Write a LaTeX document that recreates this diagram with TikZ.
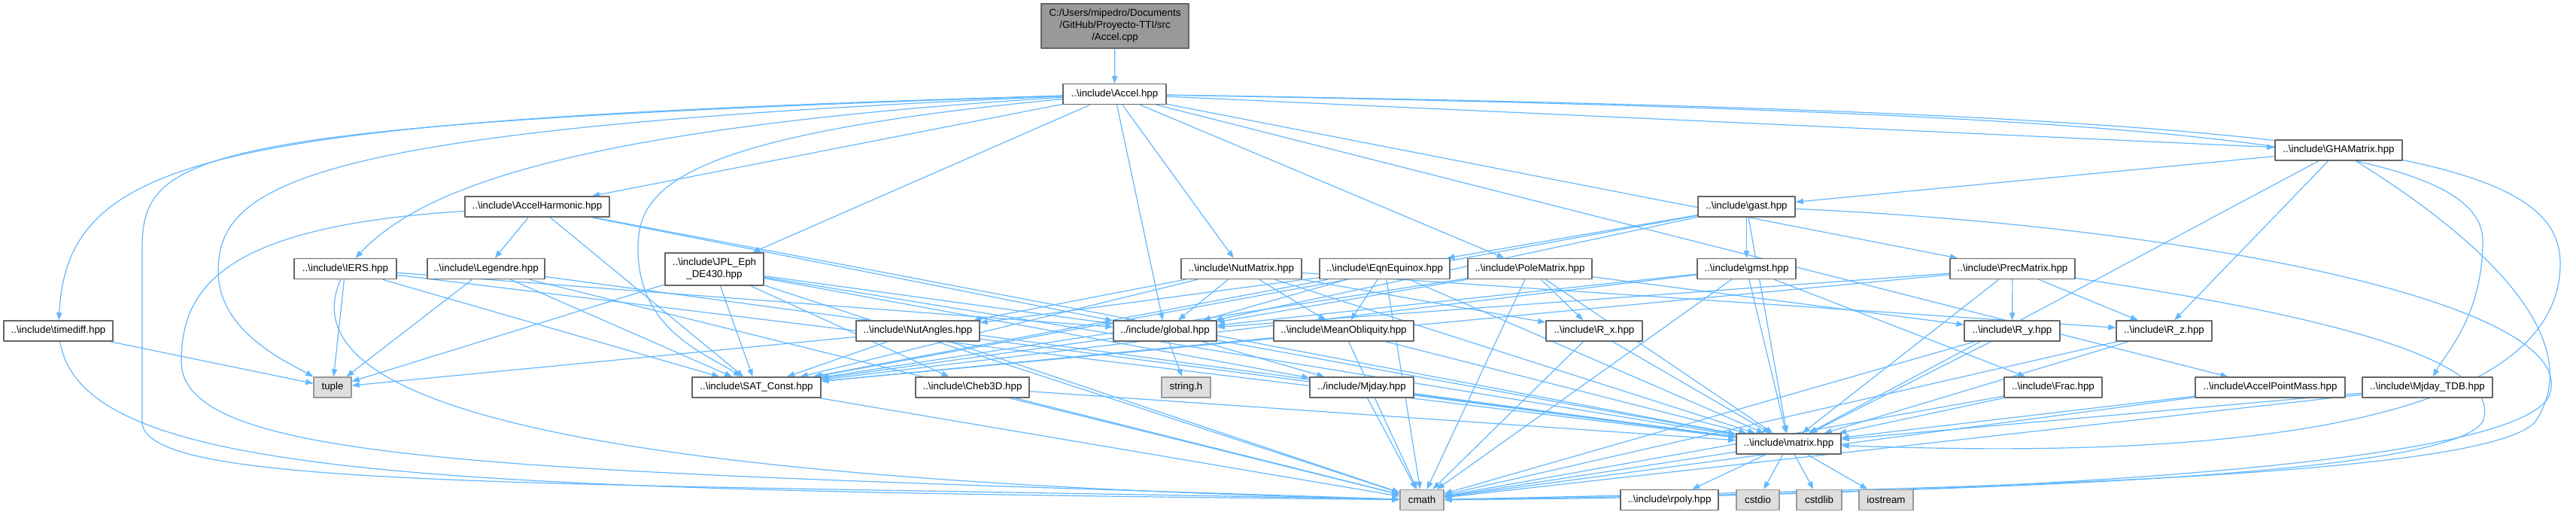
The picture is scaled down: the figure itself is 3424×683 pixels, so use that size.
\documentclass[tikz,border=0pt]{standalone}
\usepackage{fontspec}
\setmainfont{Liberation Sans}
\usetikzlibrary{arrows.meta,backgrounds}
\definecolor{depblue}{RGB}{99,184,255}
\definecolor{boxgrey}{RGB}{102,102,102}
\definecolor{sysgrey}{RGB}{153,153,153}
\definecolor{sysfill}{RGB}{222,222,222}
\definecolor{rootfill}{RGB}{153,153,153}
\newlength\pxu
\setlength\pxu{0.75pt}
\newcommand\incpath[1]{..\textbackslash include\textbackslash #1}

\begin{document}
\begin{tikzpicture}[x=0.75pt,y=-0.75pt,line cap=round,line join=round,
 hdr/.style={draw=boxgrey,fill=white,line width=1.1pt,inner xsep=0pt,
  inner ysep=0pt,minimum height=27\pxu,font=\fontsize{10}{12}\selectfont},
 syshdr/.style={hdr,draw=sysgrey,fill=sysfill},
 dep/.style={depblue,line width=0.9pt,
  -{Stealth[length=7.5pt,width=5.6pt,inset=0pt]}}]
 \useasboundingbox (0,0) rectangle (3424,683);
 % top rows
 \node[hdr,fill=rootfill,minimum width=196\pxu,minimum height=59\pxu,align=center]
  (cpp) at (1482,34.5) {C:/Users/mipedro/Documents\\/GitHub/Proyecto-TTI/src\\/Accel.cpp};
 \node[hdr,minimum width=137\pxu] (accel) at (1481.5,125) {\incpath{Accel.hpp}};
 \node[hdr,minimum width=169\pxu] (gha) at (3108.5,199.5) {\incpath{GHAMatrix.hpp}};
 \node[hdr,minimum width=192\pxu] (harmonic) at (714,274.5) {\incpath{AccelHarmonic.hpp}};
 \node[hdr,minimum width=129\pxu] (gast) at (2321.5,274.5) {\incpath{gast.hpp}};
 % middle row
 \node[hdr,minimum width=136\pxu] (iers) at (459,357) {\incpath{IERS.hpp}};
 \node[hdr,minimum width=156\pxu] (legendre) at (646,357) {\incpath{Legendre.hpp}};
 \node[hdr,minimum width=131\pxu,minimum height=43\pxu,align=center]
  (jpl) at (949.5,357.5) {\incpath{JPL\_Eph}\\\_DE430.hpp};
 \node[hdr,minimum width=160\pxu] (nutmatrix) at (1650,357) {\incpath{NutMatrix.hpp}};
 \node[hdr,minimum width=173\pxu] (eqnequinox) at (1840.5,357) {\incpath{EqnEquinox.hpp}};
 \node[hdr,minimum width=165\pxu] (polematrix) at (2033.5,357) {\incpath{PoleMatrix.hpp}};
 \node[hdr,minimum width=131\pxu] (gmst) at (2321.5,357) {\incpath{gmst.hpp}};
 \node[hdr,minimum width=166\pxu] (precmatrix) at (2675,357) {\incpath{PrecMatrix.hpp}};
 % lower rows
 \node[hdr,minimum width=145\pxu] (timediff) at (77.5,439.5) {\incpath{timediff.hpp}};
 \node[hdr,minimum width=164\pxu] (nutangles) at (1220,439.5) {\incpath{NutAngles.hpp}};
 \node[hdr,minimum width=137\pxu] (global) at (1548.5,439.5) {../include/global.hpp};
 \node[hdr,minimum width=186\pxu] (meanobl) at (1786,439.5) {\incpath{MeanObliquity.hpp}};
 \node[hdr,minimum width=128\pxu] (rx) at (2119,439.5) {\incpath{R\_x.hpp}};
 \node[hdr,minimum width=127\pxu] (ry) at (2674.5,439.5) {\incpath{R\_y.hpp}};
 \node[hdr,minimum width=127\pxu] (rz) at (2876.5,439.5) {\incpath{R\_z.hpp}};
 \node[syshdr,minimum width=50\pxu] (tuple) at (442,514.5) {tuple};
 \node[hdr,minimum width=171\pxu] (satconst) at (1005.5,514.5) {\incpath{SAT\_Const.hpp}};
 \node[hdr,minimum width=151\pxu] (cheb3d) at (1292.5,514.5) {\incpath{Cheb3D.hpp}};
 \node[syshdr,minimum width=65\pxu] (stringh) at (1576.5,514.5) {string.h};
 \node[hdr,minimum width=138\pxu] (mjday) at (1810,514.5) {../include/Mjday.hpp};
 \node[hdr,minimum width=130\pxu] (frac) at (2729,514.5) {\incpath{Frac.hpp}};
 \node[hdr,minimum width=199\pxu] (accelpm) at (3017.5,514.5) {\incpath{AccelPointMass.hpp}};
 \node[hdr,minimum width=173\pxu] (mjdaytdb) at (3226.5,514.5) {\incpath{Mjday\_TDB.hpp}};
 \node[hdr,minimum width=139\pxu] (matrix) at (2377.5,589.5) {\incpath{matrix.hpp}};
 \node[syshdr,minimum width=58\pxu] (cmath) at (1890,664) {cmath};
 \node[hdr,minimum width=130\pxu] (rpoly) at (2219,664) {\incpath{rpoly.hpp}};
 \node[syshdr,minimum width=57\pxu] (cstdio) at (2336.5,664) {cstdio};
 \node[syshdr,minimum width=60\pxu] (cstdlib) at (2418,664) {cstdlib};
 \node[syshdr,minimum width=72\pxu] (iostream) at (2507,664) {iostream};

 \begin{pgfonlayer}{background}
 % straight includes
 \foreach \s/\t in {cpp/accel,accel/harmonic,accel/jpl,accel/global,
  accel/nutmatrix,accel/polematrix,accel/precmatrix,accel/gha,accel/accelpm,
  timediff/tuple,harmonic/legendre,harmonic/satconst,harmonic/global,
  harmonic/matrix,legendre/tuple,legendre/satconst,legendre/matrix,
  legendre/cmath,iers/tuple,iers/satconst,iers/global,iers/matrix,
  jpl/tuple,jpl/satconst,jpl/global,jpl/cheb3d,jpl/mjday,jpl/matrix,
  jpl/cmath,nutmatrix/nutangles,nutmatrix/meanobl,nutmatrix/satconst,
  nutmatrix/global,nutmatrix/rx,nutmatrix/rz,nutmatrix/matrix,
  nutangles/satconst,nutangles/tuple,nutangles/matrix,nutangles/cmath,
  meanobl/satconst,meanobl/matrix,meanobl/cmath,eqnequinox/nutangles,
  eqnequinox/meanobl,eqnequinox/satconst,eqnequinox/global,
  eqnequinox/matrix,eqnequinox/cmath,polematrix/rx,polematrix/ry,
  polematrix/global,polematrix/satconst,polematrix/matrix,polematrix/cmath,
  gast/gmst,gast/eqnequinox,gast/global,gast/satconst,gast/matrix,
  gmst/frac,gmst/satconst,gmst/global,gmst/matrix,gmst/cmath,
  precmatrix/ry,precmatrix/rz,precmatrix/satconst,precmatrix/global,
  precmatrix/matrix,gha/gast,gha/rz,gha/matrix,global/stringh,
  global/mjday,global/satconst,global/matrix,satconst/cmath,
  cheb3d/matrix,cheb3d/cmath,mjday/matrix,mjday/cmath,rx/matrix,
  rx/cmath,ry/matrix,ry/cmath,rz/matrix,rz/cmath,frac/matrix,frac/cmath,
  accelpm/matrix,accelpm/cmath,mjdaytdb/matrix,mjdaytdb/cmath,
  matrix/cmath,matrix/rpoly,matrix/cstdio,matrix/cstdlib,matrix/iostream}
  \draw[dep] (\s) -- (\t);
 % routed round the left
 \draw[dep] (accel) .. controls (300,160) and (90,200) .. (timediff);
 \draw[dep] (accel) .. controls (260,165) and (189,200) .. (189,330)
  -- (189,560) .. controls (189,650) and (700,640) .. (cmath);
 \draw[dep] (accel) .. controls (420,170) and (290,240) .. (290,360)
  .. controls (290,440) and (380,480) .. (tuple);
 \draw[dep] (accel) .. controls (760,170) and (560,250) .. (iers);
 \draw[dep] (accel) .. controls (900,180) and (848,250) .. (848,330)
  .. controls (848,440) and (940,470) .. (satconst);
 \draw[dep] (timediff) .. controls (110,640) and (600,650) .. (cmath);
 \draw[dep] (harmonic) .. controls (300,300) and (241,380) .. (241,480)
  .. controls (241,620) and (700,625) .. (cmath);
 \draw[dep] (iers) .. controls (370,560) and (900,640) .. (cmath);
 % routed round the right
 \draw[dep] (accel) .. controls (2900,150) and (3300,190) .. (3300,320)
  .. controls (3300,420) and (3250,470) .. (mjdaytdb);
 \draw[dep] (accel) .. controls (3100,150) and (3403,200) .. (3403,350)
  .. controls (3403,620) and (2700,600) .. (matrix);
 \draw[dep] (gha) .. controls (3350,350) and (3430,470) .. (3370,560)
  .. controls (3300,640) and (2500,650) .. (cmath);
 \draw[dep] (gast) .. controls (2900,300) and (3420,400) .. (3390,520)
  .. controls (3370,630) and (2500,660) .. (cmath);
 \draw[dep] (precmatrix) .. controls (3100,420) and (3330,480) .. (3300,560)
  .. controls (3250,640) and (2500,655) .. (cmath);
 \end{pgfonlayer}
\end{tikzpicture}
\end{document}
